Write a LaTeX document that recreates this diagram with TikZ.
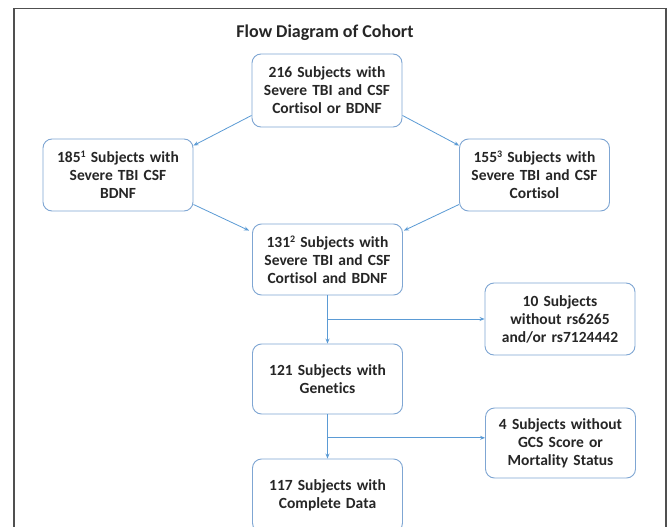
\documentclass[tikz,border=0pt]{standalone}
\usepackage{fontspec}
\setmainfont[Ligatures=NoCommon]{Carlito}
\usetikzlibrary{arrows.meta,calc}
\definecolor{boxline}{HTML}{7FA6D3}
\definecolor{arrowc}{HTML}{5B9BD5}
\definecolor{framec}{HTML}{505050}
\newcommand{\supnum}[1]{\raisebox{5pt}{\fontsize{10}{10}\selectfont #1}}
\tikzset{
  flowbox/.style={draw=boxline, line width=0.9pt, rounded corners=9pt, fill=white,
    minimum width=150pt, minimum height=72pt, text width=144pt, align=center,
    inner sep=2pt, font=\bfseries\fontsize{15.5}{18}\selectfont, text=black!85},
  arr/.style={draw=arrowc, line width=0.8pt, -{Stealth[length=5pt,width=4pt]}},
}
\begin{document}
\begin{tikzpicture}[x=1pt,y=-1pt]
\clip (0,0) rectangle (669,527);
\fill[white] (0,0) rectangle (669,527);
\draw[framec, line width=1.6pt] (14,540) -- (14,8.5) -- (666,8.5) -- (666,540);
\node[font=\bfseries\fontsize{18}{21}\selectfont, text=black!85] (title) at (325,33) {Flow Diagram of Cohort};
\node[flowbox, minimum height=73pt] (top) at (327,90.5) {216 Subjects with\\Severe TBI and CSF\\Cortisol or BDNF};
\node[flowbox] (left) at (118,175) {185\supnum{1} Subjects with\\Severe TBI CSF\\BDNF};
\node[flowbox] (right) at (534.5,175) {155\supnum{3} Subjects with\\Severe TBI and CSF\\Cortisol};
\node[flowbox, minimum height=71pt] (mid) at (327.5,259.5) {131\supnum{2} Subjects with\\Severe TBI and CSF\\Cortisol and BDNF};
\node[flowbox] (ten) at (560,319) {10 Subjects\\without rs6265\\and/or rs7124442};
\node[flowbox, minimum height=70pt] (g121) at (327.5,379) {121 Subjects with\\Genetics};
\node[flowbox, minimum height=70pt] (four) at (560.5,443) {4 Subjects without\\GCS Score or\\Mortality Status};
\node[flowbox, minimum height=73pt] (c117) at (327.5,495.5) {117 Subjects with\\Complete Data};
% connectors
\draw[arr] ([yshift=12pt]top.south west) -- ([yshift=-7pt]left.north east);
\draw[arr] ([yshift=12pt]top.south east) -- ([yshift=-7pt]right.north west);
\draw[arr] ([yshift=7pt]left.south east) -- ([xshift=-3pt,yshift=-7pt]mid.north west);
\draw[arr] ([yshift=7pt]right.south west) -- ([xshift=1pt,yshift=-7pt]mid.north east);
\draw[arr] (mid.south) -- (g121.north);
\coordinate (b1) at (mid.south |- ten.west);
\draw[arr] (b1) -- (ten.west);
\draw[arr] (g121.south) -- (c117.north);
\coordinate (b2) at ($(g121.south)!0.53!(c117.north)$);
\draw[arr] (b2) -- (b2 -| four.west);
\end{tikzpicture}
\end{document}
